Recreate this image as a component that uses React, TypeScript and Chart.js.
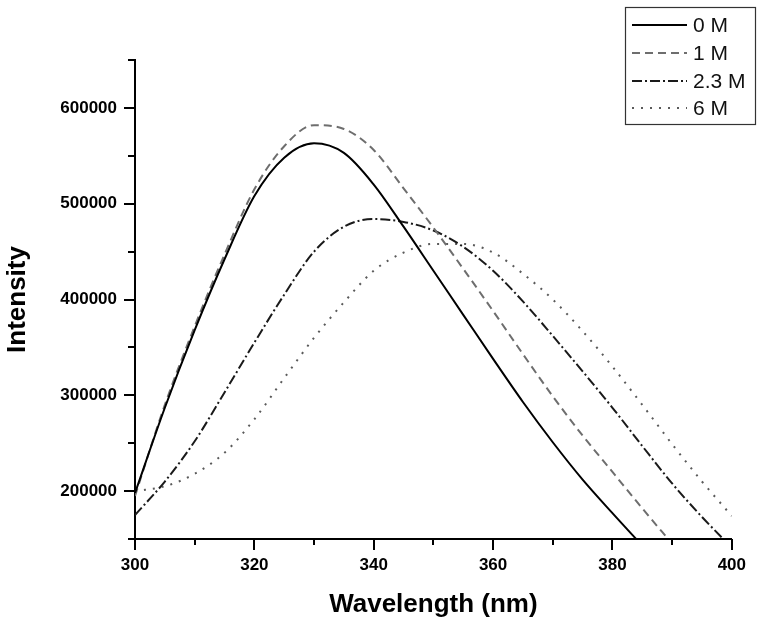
import React, { useEffect, useRef } from "react";
import { Chart, registerables } from "chart.js";

Chart.register(...registerables);

const wavelengths = [300, 305, 310, 315, 320, 325, 330, 335, 340, 345, 350, 355, 360, 365, 370, 375, 380, 385, 390, 395, 400];

const series0M = [198000, 287000, 368000, 442000, 508000, 548000, 563000, 553000, 520000, 476000, 430000, 384000, 338000, 293000, 251000, 212000, 177000, 143000, null, null, null];
const series1M = [195000, 290000, 372000, 447000, 515000, 560000, 582000, 578000, 556000, 516000, 475000, 432000, 388000, 343000, 299000, 258000, 220000, 182000, 145000, null, null];
const series23M = [175000, 210000, 252000, 303000, 355000, 405000, 450000, 476000, 484000, 481000, 472000, 455000, 430000, 398000, 362000, 325000, 287000, 247000, 208000, 173000, 141000];
const series6M = [200000, 205000, 218000, 240000, 275000, 318000, 360000, 397000, 430000, 449000, 458000, 458000, 449000, 427000, 400000, 367000, 330000, 290000, 249000, 210000, 174000];

const seriesLabels = ["0 M", "1 M", "2.3 M", "6 M"];
const yTickValues = [200000, 300000, 400000, 500000, 600000];
const xTickValues = [300, 320, 340, 360, 380, 400];

const FONT = "Arial, 'Liberation Sans', sans-serif";

const toPoints = (vals: (number | null)[]) =>
  wavelengths.map((w, i) => ({ x: w, y: vals[i] as number | null }));

const decorPlugin = {
  id: "decor",
  afterDraw(chart: any) {
    const { ctx, chartArea, scales } = chart;
    const xs = scales.x;
    const ys = scales.y;
    ctx.save();
    ctx.strokeStyle = "#000";
    ctx.lineWidth = 2;
    ctx.setLineDash([]);
    // y ticks (major + minor)
    for (let v = ys.min; v <= ys.max + 1; v += 50000) {
      const p = Math.round(ys.getPixelForValue(v));
      const major = v % 100000 === 0;
      const len = major ? 11 : 7;
      ctx.beginPath();
      ctx.moveTo(chartArea.left - len, p);
      ctx.lineTo(chartArea.left, p);
      ctx.stroke();
    }
    // x ticks (major + minor)
    for (let v = xs.min; v <= xs.max + 0.01; v += 10) {
      const p = Math.round(xs.getPixelForValue(v));
      const major = (v - 300) % 20 === 0;
      const len = major ? 11 : 6;
      ctx.beginPath();
      ctx.moveTo(p, chartArea.bottom);
      ctx.lineTo(p, chartArea.bottom + len);
      ctx.stroke();
    }
    // legend box
    const bx = 625.5, by = 7.5, bw = 130, bh = 117;
    ctx.lineWidth = 1.2;
    ctx.strokeStyle = "#333";
    ctx.strokeRect(bx, by, bw, bh);
    const rows = [25, 53, 81, 108];
    chart.data.datasets.forEach((ds: any, i: number) => {
      const y = rows[i];
      ctx.beginPath();
      ctx.strokeStyle = ds.borderColor;
      ctx.lineWidth = 2;
      ctx.setLineDash(ds.borderDash || []);
      ctx.moveTo(632, y);
      ctx.lineTo(687, y);
      ctx.stroke();
      ctx.setLineDash([]);
      ctx.fillStyle = "#111";
      ctx.font = `21px ${FONT}`;
      ctx.textBaseline = "middle";
      ctx.textAlign = "left";
      ctx.fillText(ds.label, 693, y + 1);
    });
    ctx.restore();
  },
};

export default function App() {
  const ref = useRef<HTMLCanvasElement | null>(null);

  useEffect(() => {
    document.body.style.margin = "0";
    const canvas = ref.current;
    if (!canvas) return;
    const chart = new Chart(canvas, {
      type: "line",
      data: {
        datasets: [
          {
            label: seriesLabels[0],
            data: toPoints(series0M),
            borderColor: "#000000",
            borderWidth: 2,
            borderDash: [],
          },
          {
            label: seriesLabels[1],
            data: toPoints(series1M),
            borderColor: "#6e6e6e",
            borderWidth: 2,
            borderDash: [8, 5],
          },
          {
            label: seriesLabels[2],
            data: toPoints(series23M),
            borderColor: "#1a1a1a",
            borderWidth: 2,
            borderDash: [10, 3, 2, 3],
          },
          {
            label: seriesLabels[3],
            data: toPoints(series6M),
            borderColor: "#5a5a5a",
            borderWidth: 2,
            borderDash: [2, 7],
          },
        ] as any,
      },
      options: {
        responsive: false,
        animation: false,
        spanGaps: false,
        layout: { padding: { top: 60, right: 26, left: 0, bottom: 0 } },
        elements: {
          point: { radius: 0 },
          line: { cubicInterpolationMode: "monotone", fill: false },
        },
        plugins: {
          legend: { display: false },
          tooltip: { enabled: false },
        },
        scales: {
          x: {
            type: "linear",
            min: 300,
            max: 400,
            grid: { display: false, drawTicks: false },
            border: { display: true, color: "#000", width: 2 },
            afterBuildTicks: (scale: any) => {
              scale.ticks = xTickValues.map((v) => ({ value: v }));
            },
            afterFit: (scale: any) => {
              scale.height = 85;
            },
            ticks: {
              color: "#000",
              padding: 16,
              maxRotation: 0,
              font: { family: FONT, size: 17, weight: "bold" },
              callback: (v: any) => String(v),
            },
            title: {
              display: true,
              text: "Wavelength (nm)",
              color: "#000",
              padding: { top: 0, bottom: 4 },
              font: { family: FONT, size: 26, weight: "bold" },
            },
          },
          y: {
            type: "linear",
            min: 150000,
            max: 650000,
            grid: { display: false, drawTicks: false },
            border: { display: true, color: "#000", width: 2 },
            afterBuildTicks: (scale: any) => {
              scale.ticks = yTickValues.map((v) => ({ value: v }));
            },
            afterFit: (scale: any) => {
              scale.width = 135;
            },
            ticks: {
              color: "#000",
              padding: 18,
              font: { family: FONT, size: 17, weight: "bold" },
              callback: (v: any) => String(v),
            },
            title: {
              display: true,
              text: "Intensity",
              color: "#000",
              padding: { top: 2, bottom: 0 },
              font: { family: FONT, size: 26, weight: "bold" },
            },
          },
        },
      } as any,
      plugins: [decorPlugin],
    });
    return () => chart.destroy();
  }, []);

  return (
    <canvas
      ref={ref}
      width={762}
      height={624}
      style={{ display: "block", width: 762, height: 624 }}
    />
  );
}
